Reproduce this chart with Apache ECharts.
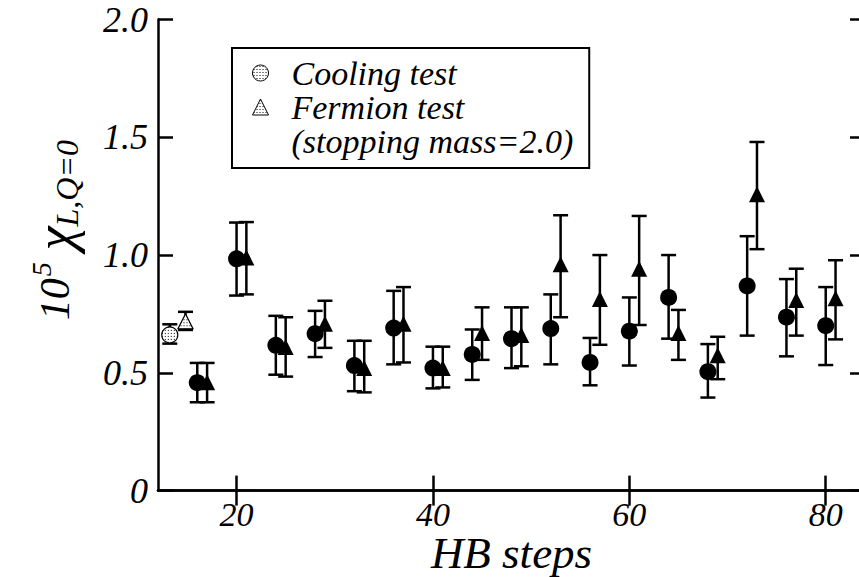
<!DOCTYPE html>
<html>
<head>
<meta charset="utf-8">
<script src="https://cdn.jsdelivr.net/npm/echarts@6/dist/echarts.min.js"></script>
<style>
html,body{margin:0;padding:0;background:#fff;}
#chart{width:859px;height:577px;}
</style>
</head>
<body>
<div id="chart"></div>
<script>
// ---- data ----
const coolX  = [16, 20, 24, 28, 32, 36, 40, 44, 48, 52, 56, 60, 64, 68, 72, 76, 80];
const coolY  = [0.458, 0.984, 0.617, 0.666, 0.531, 0.690, 0.520, 0.578, 0.645, 0.688, 0.544, 0.677, 0.820, 0.505, 0.869, 0.736, 0.700];
const coolHi = [0.542, 1.138, 0.742, 0.763, 0.636, 0.848, 0.611, 0.684, 0.778, 0.833, 0.648, 0.820, 1.000, 0.622, 1.080, 0.898, 0.864];
const coolLo = [0.375, 0.828, 0.492, 0.567, 0.422, 0.536, 0.434, 0.470, 0.520, 0.536, 0.447, 0.531, 0.645, 0.395, 0.658, 0.570, 0.533];

const fermX  = [17, 21, 25, 29, 33, 37, 41, 45, 49, 53, 57, 61, 65, 69, 73, 77, 81];
const fermY  = [0.460, 0.990, 0.610, 0.708, 0.520, 0.708, 0.520, 0.669, 0.661, 0.961, 0.813, 0.942, 0.669, 0.575, 1.258, 0.809, 0.817];
const fermHi = [0.542, 1.140, 0.736, 0.806, 0.636, 0.864, 0.611, 0.778, 0.778, 1.169, 1.000, 1.166, 0.767, 0.653, 1.480, 0.942, 0.978];
const fermLo = [0.375, 0.833, 0.484, 0.606, 0.417, 0.544, 0.438, 0.555, 0.528, 0.736, 0.619, 0.703, 0.555, 0.473, 1.025, 0.658, 0.642];

const coolRefX = [13.2], coolRefY = [0.661], coolRefLo = [0.624], coolRefHi = [0.706];
const fermRefX = [14.8], fermRefY = [0.719], fermRefLo = [0.682], fermRefHi = [0.759];

const xTicks = [20, 40, 60, 80];
const yTicks = [0, 0.5, 1.0, 1.5, 2.0];
const legendNames = ['Cooling test', 'Fermion test', '(stopping mass=2.0)'];
const xTitle = 'HB steps';

// ---- helpers ----
const FONT = 'Liberation Serif';
function rows(xs, ys, los, his) { return xs.map((x, i) => [x, ys[i], los[i], his[i]]); }
function dotCanvas() {
  const c = document.createElement('canvas');
  c.width = 3; c.height = 3;
  const g = c.getContext('2d');
  g.fillStyle = '#ffffff'; g.fillRect(0, 0, 3, 3);
  g.fillStyle = '#000000'; g.fillRect(1, 1, 1, 1);
  return c;
}
const DOT_IMG = dotCanvas();
// symbols are drawn in unit space and scaled by size/2, so compensate the pattern scale
function dots(symbolSize) {
  const s = symbolSize ? 2 / symbolSize : 1;
  return { image: DOT_IMG, repeat: 'repeat', scaleX: s, scaleY: s };
}

function errRender(params, api) {
  const x = api.value(0), lo = api.value(2), hi = api.value(3);
  const a = api.coord([x, hi]), b = api.coord([x, lo]);
  const w = 7.5;
  const st = { stroke: '#000', lineWidth: 2.5, fill: null };
  return {
    type: 'group',
    children: [
      { type: 'line', shape: { x1: a[0], y1: a[1], x2: b[0], y2: b[1] }, style: st },
      { type: 'line', shape: { x1: a[0] - w, y1: a[1], x2: a[0] + w, y2: a[1] }, style: st },
      { type: 'line', shape: { x1: b[0] - w, y1: b[1], x2: b[0] + w, y2: b[1] }, style: st }
    ]
  };
}
function errSeries(data, z) {
  return { type: 'custom', renderItem: errRender, data: data, z: z, silent: true,
           encode: { x: 0, y: 1 }, clip: false };
}

const axisLineStyle = { color: '#000', width: 2.5 };
const tickStyle = { color: '#000', width: 2.5 };
const txt = (size) => ({ fontFamily: FONT, fontStyle: 'italic', fontSize: size, color: '#000' });
const legendIconStyle = { color: dots(0), borderColor: '#000', borderWidth: 1 };

const chart = echarts.init(document.getElementById('chart'), null, { renderer: 'svg' });
chart.setOption({
  animation: false,
  backgroundColor: '#fff',
  textStyle: { fontFamily: FONT, fontStyle: 'italic', color: '#000' },
  grid: { left: 158, top: 19.5, right: -6, bottom: 86.4, containLabel: false, outerBoundsMode: 'none' },
  legend: {
    left: 232, top: 48, orient: 'vertical',
    borderColor: '#000', borderWidth: 2,
    padding: [8, 16, 10, 20],
    itemGap: 0, itemWidth: 16, itemHeight: 16,
    selectedMode: false,
    textStyle: { fontFamily: FONT, fontStyle: 'italic', fontSize: 34, color: '#000', padding: [0, 0, 0, 18] },
    data: [
      { name: legendNames[0], icon: 'circle', itemStyle: legendIconStyle },
      { name: legendNames[1], icon: 'triangle', itemStyle: legendIconStyle },
      { name: legendNames[2], icon: 'none' }
    ]
  },
  xAxis: [
    {
      type: 'value', min: 12, max: 84, position: 'bottom',
      name: xTitle, nameLocation: 'middle', nameGap: 46, nameMoveOverlap: false,
      nameTextStyle: Object.assign(txt(45), { lineHeight: 32 }),
      axisLine: { show: true, lineStyle: axisLineStyle },
      axisTick: { show: true, inside: true, length: 15, lineStyle: tickStyle, customValues: xTicks },
      axisLabel: Object.assign({ show: true, margin: 9, customValues: xTicks, lineHeight: 30 }, txt(34)),
      splitLine: { show: false }
    },
    {
      type: 'value', min: 12, max: 84, position: 'top',
      axisLine: { show: true, lineStyle: axisLineStyle },
      axisTick: { show: true, inside: true, length: 15, lineStyle: tickStyle, customValues: xTicks },
      axisLabel: { show: false },
      splitLine: { show: false }
    }
  ],
  yAxis: [
    {
      type: 'value', min: 0, max: 2, interval: 0.5, position: 'left',
      name: '{pad|}{n|10}{sup|5}{chi|χ}{sub|L,Q=0}',
      nameLocation: 'middle', nameRotate: 90, nameGap: 75, nameMoveOverlap: false,
      nameTextStyle: {
        color: '#000', fontFamily: FONT, fontStyle: 'italic',
        rich: {
          pad: { width: 50, height: 10 },
          n: Object.assign(txt(42), { lineHeight: 56, verticalAlign: 'middle' }),
          sup: Object.assign(txt(28), { lineHeight: 28, verticalAlign: 'top', padding: [0, 12, 0, 2] }),
          chi: Object.assign(txt(54), { lineHeight: 56, verticalAlign: 'middle' }),
          sub: Object.assign(txt(32), { lineHeight: 30, verticalAlign: 'bottom' })
        }
      },
      axisLine: { show: true, lineStyle: axisLineStyle },
      axisTick: { show: true, inside: true, length: 15, lineStyle: tickStyle },
      axisLabel: Object.assign({ show: true, margin: 10,
        formatter: v => (v === 0 ? '0' : v.toFixed(1)) }, txt(36)),
      splitLine: { show: false }
    },
    {
      type: 'value', min: 0, max: 2, interval: 0.5, position: 'right',
      axisLine: { show: true, lineStyle: axisLineStyle },
      axisTick: { show: true, inside: true, length: 15, lineStyle: tickStyle },
      axisLabel: { show: false },
      splitLine: { show: false }
    }
  ],
  series: [
    errSeries(rows(coolX, coolY, coolLo, coolHi), 2),
    errSeries(rows(fermX, fermY, fermLo, fermHi), 2),
    errSeries(rows(coolRefX, coolRefY, coolRefLo, coolRefHi), 2),
    errSeries(rows(fermRefX, fermRefY, fermRefLo, fermRefHi), 2),
    { type: 'scatter', data: rows(coolX, coolY, coolLo, coolHi), symbol: 'circle', symbolSize: 17,
      itemStyle: { color: '#000', opacity: 1 }, z: 3, silent: true },
    { type: 'scatter', data: rows(fermX, fermY, fermLo, fermHi), symbol: 'triangle', symbolSize: 16,
      itemStyle: { color: '#000', opacity: 1 }, z: 3, silent: true },
    { name: legendNames[0], type: 'scatter', data: rows(coolRefX, coolRefY, coolRefLo, coolRefHi), symbol: 'circle', symbolSize: 16,
      itemStyle: { color: dots(16), borderColor: '#000', borderWidth: 1.2, opacity: 1 }, z: 3, silent: true },
    { name: legendNames[1], type: 'scatter', data: rows(fermRefX, fermRefY, fermRefLo, fermRefHi), symbol: 'triangle', symbolSize: 15,
      itemStyle: { color: dots(15), borderColor: '#000', borderWidth: 1.2, opacity: 1 }, z: 3, silent: true },
    { name: legendNames[2], type: 'scatter', data: [], itemStyle: { color: '#fff' } }
  ]
});
</script>
</body>
</html>
